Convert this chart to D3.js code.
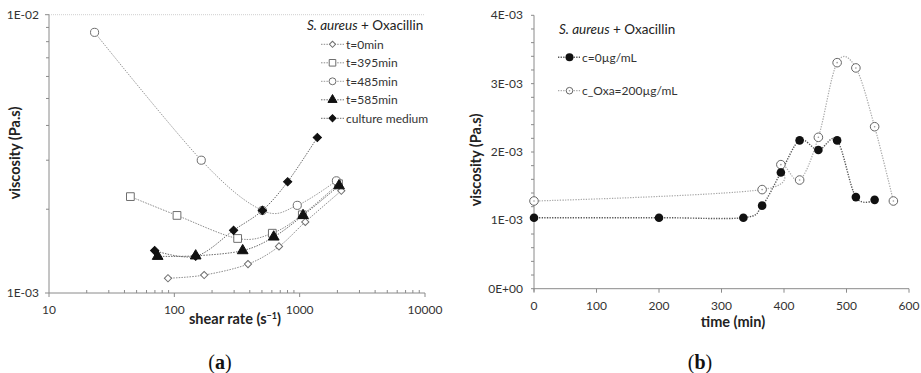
<!DOCTYPE html>
<html>
<head>
<meta charset="utf-8">
<script src="https://cdn.jsdelivr.net/npm/d3@7"></script>
<style>
  html, body { margin: 0; padding: 0; background: #fff; }
  svg { display: block; }
  text { font-family: Lato, "Noto Sans", sans-serif; }
</style>
</head>
<body>
<svg id="fig" width="921" height="373"></svg>
<script>
// ---- Panel (a): viscosity vs shear rate (log-log) ----
const shearT0      = [89, 173, 387, 684, 1109, 2148];
const viscT0       = [1.13e-3, 1.16e-3, 1.27e-3, 1.47e-3, 1.80e-3, 2.33e-3];
const shearT395    = [44.6, 105, 320, 605, 1050, 2040];
const viscT395     = [2.22e-3, 1.90e-3, 1.57e-3, 1.64e-3, 1.91e-3, 2.47e-3];
const shearT485    = [23.1, 164, 504, 957, 1963];
const viscT485     = [8.64e-3, 3.00e-3, 1.98e-3, 2.065e-3, 2.53e-3];
const shearT585    = [73.6, 148, 351, 621, 1064, 2061];
const viscT585     = [1.355e-3, 1.36e-3, 1.42e-3, 1.59e-3, 1.90e-3, 2.43e-3];
const shearMedium  = [69.7, 148, 297, 504, 802, 1383];
const viscMedium   = [1.42e-3, 1.355e-3, 1.68e-3, 1.98e-3, 2.51e-3, 3.62e-3];
const seriesNamesA = ["t=0min", "t=395min", "t=485min", "t=585min", "culture medium"];
const xTicksA      = [10, 100, 1000, 10000];
const xTickLabelsA = ["10", "100", "1000", "10000"];
const yTicksA      = [1e-3, 1e-2];
const yTickLabelsA = ["1E-03", "1E-02"];

// ---- Panel (b): viscosity vs time ----
const timeC0       = [0, 200, 335, 365, 395, 425, 455, 485, 515, 545];
const viscC0       = [1.039e-3, 1.039e-3, 1.039e-3, 1.215e-3, 1.70e-3, 2.17e-3, 2.03e-3, 2.17e-3, 1.34e-3, 1.30e-3];
const timeOxa      = [0, 365, 395, 425, 455, 485, 515, 545, 575];
const viscOxa      = [1.283e-3, 1.45e-3, 1.815e-3, 1.59e-3, 2.215e-3, 3.307e-3, 3.23e-3, 2.37e-3, 1.283e-3];
const seriesNamesB = ["c=0µg/mL", "c_Oxa=200µg/mL"];
const xTicksB      = [0, 100, 200, 300, 400, 500, 600];
const yTicksB      = [0, 1e-3, 2e-3, 3e-3, 4e-3];
const yTickLabelsB = ["0E+00", "1E-03", "2E-03", "3E-03", "4E-03"];

const svg = d3.select("#fig");
const AXIS = "#8a8a8a";
const TICKTXT = "#333";
const zip = (xs, ys) => xs.map((x, i) => [x, ys[i]]);

// marker styles
const OPEN = { fill: "#fff", stroke: "#6f6f6f" };
const FILLED = { fill: "#111", stroke: "#111" };

function drawMarker(g, type, x, y, style, scale = 1) {
  const sym = {
    diamond: [d3.symbolSquare, 26, 45],
    square: [d3.symbolSquare, 60, 0],
    circle: [d3.symbolCircle, 52, 0],
    triangle: [d3.symbolTriangle, 50, 0],
    fdiamond: [d3.symbolSquare, 34, 45]
  }[type];
  g.append("path")
    .attr("d", d3.symbol().type(sym[0]).size(sym[1] * scale)())
    .attr("transform", `translate(${x},${y}) rotate(${sym[2]})`)
    .attr("fill", style.fill)
    .attr("stroke", style.stroke)
    .attr("stroke-width", 1);
}

// ================= Panel (a) =================
const A = { left: 49, right: 425, top: 14.7, bottom: 293 };
const xA = d3.scaleLog().domain([10, 10000]).range([A.left, A.right]);
const yA = d3.scaleLog().domain([1e-3, 1e-2]).range([A.bottom, A.top]);
const gA = svg.append("g");

// top gridline
gA.append("line")
  .attr("x1", A.left).attr("x2", A.right)
  .attr("y1", yA(1e-2)).attr("y2", yA(1e-2))
  .attr("stroke", "#cfcfcf").attr("stroke-dasharray", "1,1");

// y axis with minor ticks
gA.append("line").attr("x1", A.left).attr("x2", A.left)
  .attr("y1", A.top).attr("y2", A.bottom).attr("stroke", AXIS);
const yMinorA = d3.range(2, 10).map(k => k * 1e-3);
yMinorA.forEach(v => gA.append("line")
  .attr("x1", A.left - 3).attr("x2", A.left)
  .attr("y1", yA(v)).attr("y2", yA(v)).attr("stroke", AXIS));
yTicksA.forEach((v, i) => {
  gA.append("line").attr("x1", A.left - 4).attr("x2", A.left)
    .attr("y1", yA(v)).attr("y2", yA(v)).attr("stroke", AXIS);
  gA.append("text").attr("x", A.left - 10).attr("y", yA(v) + 4)
    .attr("text-anchor", "end").attr("font-size", 12).attr("fill", TICKTXT)
    .text(yTickLabelsA[i]);
});

// x axis with minor ticks
gA.append("line").attr("x1", A.left).attr("x2", A.right)
  .attr("y1", A.bottom).attr("y2", A.bottom).attr("stroke", AXIS);
[10, 100, 1000].forEach(dec => d3.range(2, 10).forEach(k => {
  gA.append("line").attr("x1", xA(k * dec)).attr("x2", xA(k * dec))
    .attr("y1", A.bottom - 3).attr("y2", A.bottom).attr("stroke", AXIS);
}));
xTicksA.forEach((v, i) => {
  gA.append("line").attr("x1", xA(v)).attr("x2", xA(v))
    .attr("y1", A.bottom).attr("y2", A.bottom + 4).attr("stroke", AXIS);
  gA.append("text").attr("x", xA(v)).attr("y", A.bottom + 21)
    .attr("text-anchor", "middle").attr("font-size", 12).attr("fill", TICKTXT)
    .text(xTickLabelsA[i]);
});

// axis titles
gA.append("text").attr("transform", `translate(20,153) rotate(-90)`)
  .attr("text-anchor", "middle").attr("font-size", 14.5).attr("font-weight", "bold")
  .attr("fill", "#222").text("viscosity (Pa.s)");
const xtA = gA.append("text").attr("x", 235).attr("y", 324)
  .attr("text-anchor", "middle").attr("font-size", 14.5).attr("font-weight", "bold")
  .attr("fill", "#222");
xtA.append("tspan").text("shear rate (s");
xtA.append("tspan").attr("font-size", 9).attr("dy", -5).text("−1");
xtA.append("tspan").attr("dy", 5).text(")");

// series
const seriesA = [
  { data: zip(shearT0, viscT0), m: "diamond", st: OPEN, line: "#8c8c8c" },
  { data: zip(shearT395, viscT395), m: "square", st: OPEN, line: "#8c8c8c" },
  { data: zip(shearT485, viscT485), m: "circle", st: OPEN, line: "#9a9a9a" },
  { data: zip(shearT585, viscT585), m: "triangle", st: FILLED, line: "#6a6a6a" },
  { data: zip(shearMedium, viscMedium), m: "fdiamond", st: FILLED, line: "#6a6a6a" }
];
const lineA = d3.line().x(d => xA(d[0])).y(d => yA(d[1])).curve(d3.curveCatmullRom.alpha(0));
seriesA.forEach(s => gA.append("path").attr("d", lineA(s.data))
  .attr("fill", "none").attr("stroke", s.line).attr("stroke-width", 1)
  .attr("stroke-dasharray", "1.5,1.2"));
seriesA.forEach(s => s.data.forEach(d => drawMarker(gA, s.m, xA(d[0]), yA(d[1]), s.st)));

// legend (a)
const legA = gA.append("g");
const titleA = legA.append("text").attr("x", 307).attr("y", 30)
  .attr("font-size", 13.5).attr("fill", "#222");
titleA.append("tspan").attr("font-style", "italic").text("S. aureus");
titleA.append("tspan").text(" + Oxacillin");
seriesA.forEach((s, i) => {
  const cy = 44.3 + i * 18.5;
  legA.append("line").attr("x1", 321).attr("x2", 344).attr("y1", cy).attr("y2", cy)
    .attr("stroke", s.line).attr("stroke-dasharray", "1.5,1.2");
  drawMarker(legA, s.m, 332.5, cy, s.st, 0.72);
  legA.append("text").attr("x", 346).attr("y", cy + 4.3)
    .attr("font-size", 12).attr("fill", "#333").text(seriesNamesA[i]);
});

// panel label
const labA = svg.append("text").attr("x", 220).attr("y", 369)
  .attr("text-anchor", "middle").attr("font-size", 20)
  .attr("fill", "#111").style("font-family", "'Liberation Serif', serif");
labA.append("tspan").text("(");
labA.append("tspan").attr("font-weight", "bold").text("a");
labA.append("tspan").text(")");

// ================= Panel (b) =================
const B = { left: 534, right: 909, top: 15.3, bottom: 288.7 };
const xB = d3.scaleLinear().domain([0, 600]).range([B.left, B.right]);
const yB = d3.scaleLinear().domain([0, 4e-3]).range([B.bottom, B.top]);
const gB = svg.append("g");

gB.append("line").attr("x1", B.left).attr("x2", B.left)
  .attr("y1", B.top).attr("y2", B.bottom + 3).attr("stroke", AXIS);
d3.range(0, 4.001e-3, 0.2e-3).forEach(v => gB.append("line")
  .attr("x1", B.left - 3).attr("x2", B.left)
  .attr("y1", yB(v)).attr("y2", yB(v)).attr("stroke", AXIS));
yTicksB.forEach((v, i) => gB.append("text")
  .attr("x", B.left - 11).attr("y", yB(v) + 4)
  .attr("text-anchor", "end").attr("font-size", 12).attr("fill", TICKTXT)
  .text(yTickLabelsB[i]));

gB.append("line").attr("x1", B.left).attr("x2", B.right)
  .attr("y1", B.bottom).attr("y2", B.bottom).attr("stroke", AXIS);
xTicksB.forEach(v => {
  gB.append("line").attr("x1", xB(v)).attr("x2", xB(v))
    .attr("y1", B.bottom).attr("y2", B.bottom + 4).attr("stroke", AXIS);
  gB.append("text").attr("x", xB(v)).attr("y", B.bottom + 21)
    .attr("text-anchor", "middle").attr("font-size", 12).attr("fill", TICKTXT)
    .text(v);
});

gB.append("text").attr("transform", `translate(481,160) rotate(-90)`)
  .attr("text-anchor", "middle").attr("font-size", 14.5).attr("font-weight", "bold")
  .attr("fill", "#222").text("viscosity (Pa.s)");
gB.append("text").attr("x", 733).attr("y", 327)
  .attr("text-anchor", "middle").attr("font-size", 14.5).attr("font-weight", "bold")
  .attr("fill", "#222").text("time (min)");

const lineB = d3.line().x(d => xB(d[0])).y(d => yB(d[1])).curve(d3.curveCatmullRom.alpha(0));
const seriesB = [
  { data: zip(timeC0, viscC0), filled: true, line: "#555" , w: 1.4 },
  { data: zip(timeOxa, viscOxa), filled: false, line: "#a8a8a8", w: 1.2 }
];
function drawCircleB(g, x, y, filled, r = 4.3) {
  if (filled) {
    g.append("circle").attr("cx", x).attr("cy", y).attr("r", r).attr("fill", "#111");
  } else {
    g.append("circle").attr("cx", x).attr("cy", y).attr("r", r)
      .attr("fill", "#fff").attr("stroke", "#666").attr("stroke-width", 1);
    g.append("circle").attr("cx", x).attr("cy", y).attr("r", 0.8).attr("fill", "#999");
  }
}
// open series beneath, filled on top
[seriesB[1], seriesB[0]].forEach(s => gB.append("path").attr("d", lineB(s.data))
  .attr("fill", "none").attr("stroke", s.line).attr("stroke-width", s.w)
  .attr("stroke-dasharray", "1.3,1.3"));
[seriesB[1], seriesB[0]].forEach(s => s.data.forEach(d => drawCircleB(gB, xB(d[0]), yB(d[1]), s.filled)));

// legend (b)
const titleB = gB.append("text").attr("x", 559).attr("y", 33.5)
  .attr("font-size", 13.5).attr("fill", "#222");
titleB.append("tspan").attr("font-style", "italic").text("S. aureus");
titleB.append("tspan").text(" + Oxacillin");
seriesB.forEach((s, i) => {
  const cy = [57.3, 90.7][i];
  gB.append("line").attr("x1", 558).attr("x2", 580).attr("y1", cy).attr("y2", cy)
    .attr("stroke", s.line).attr("stroke-width", s.w).attr("stroke-dasharray", "1.3,1.3");
  drawCircleB(gB, 569.5, cy, s.filled, s.filled ? 4 : 3.3);
  gB.append("text").attr("x", 582).attr("y", cy + 4.3)
    .attr("font-size", 12).attr("fill", "#333").text(seriesNamesB[i]);
});

const labB = svg.append("text").attr("x", 700).attr("y", 369)
  .attr("text-anchor", "middle").attr("font-size", 20)
  .attr("fill", "#111").style("font-family", "'Liberation Serif', serif");
labB.append("tspan").text("(");
labB.append("tspan").attr("font-weight", "bold").text("b");
labB.append("tspan").text(")");
</script>
</body>
</html>
